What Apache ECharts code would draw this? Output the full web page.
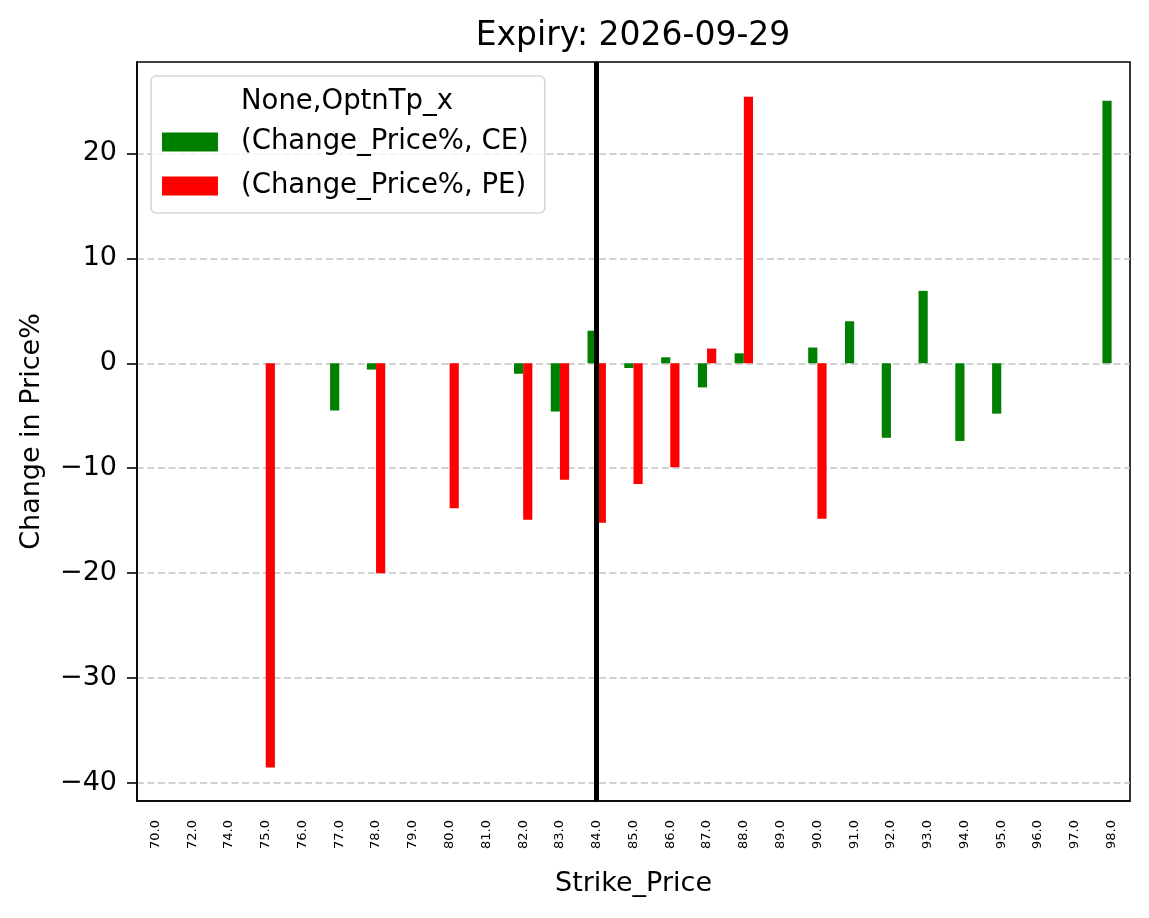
<!DOCTYPE html>
<html><head><meta charset="utf-8">
<script src="https://cdn.jsdelivr.net/npm/echarts@6/dist/echarts.min.js"></script>
<style>html,body{margin:0;padding:0;background:#fff}#c{width:1149px;height:918px}</style>
</head><body><div id="c"></div>
<script>
const categories = ['70.0','72.0','74.0','75.0','76.0','77.0','78.0','79.0','80.0','81.0','82.0','83.0','84.0','85.0','86.0','87.0','88.0','89.0','90.0','91.0','92.0','93.0','94.0','95.0','96.0','97.0','98.0'];
const ceValues = [null,null,null,null,null,-4.5,-0.6,null,null,null,-1.0,-4.6,3.1,-0.45,0.57,-2.3,0.95,null,1.5,4.0,-7.1,6.9,-7.4,-4.8,null,null,25.0];
const peValues = [null,null,null,-38.5,null,null,-20.0,null,-13.8,null,-14.9,-11.1,-15.2,-11.5,-9.9,1.4,25.4,null,-14.8,null,null,null,null,null,null,null,null];
const yTicks = [-40,-30,-20,-10,0,10,20];
const atmStrike = '84.0';
const font = 'DejaVu Sans';
const chart = echarts.init(document.getElementById('c'), null, {renderer:'canvas'});
chart.setOption({
  animation:false,
  backgroundColor:'#fff',
  textStyle:{fontFamily:font},
  title:{text:'Expiry: 2026-09-29', left:628, top:15, textAlign:'center',
    textStyle:{fontFamily:font,fontSize:33,fontWeight:'normal',color:'#000'}},
  grid:{left:137,right:19,top:62,bottom:117,show:true,borderColor:'#000',borderWidth:1.6,backgroundColor:'transparent'},
  legend:{orient:'vertical',left:151,top:76,itemWidth:56,itemHeight:19,itemGap:16,
    padding:[52,16,13,11],borderColor:'#d6d6d6',borderWidth:1.6,borderRadius:5,backgroundColor:'rgba(255,255,255,0.8)',
    textStyle:{fontFamily:font,fontSize:27.5,lineHeight:27,color:'#000',padding:[0,0,0,18]},
    data:[{name:'(Change_Price%, CE)',icon:'rect'},{name:'(Change_Price%, PE)',icon:'rect'}]},
  graphic:[{type:'text',left:241,top:88,z:100,style:{text:'None,OptnTp_x',font:'27.5px "DejaVu Sans"',fill:'#000'}}],
  xAxis:{type:'category',data:categories,name:'Strike_Price',nameLocation:'middle',nameGap:69,
    nameTextStyle:{fontFamily:font,fontSize:27,color:'#000'},
    axisLine:{onZero:false,lineStyle:{color:'#000',width:1.6}},
    axisTick:{alignWithLabel:true,length:10,lineStyle:{color:'#000',width:1.6}},
    axisLabel:{rotate:90,fontSize:13,color:'#000',margin:19,interval:0,fontFamily:font},
    splitLine:{show:false}},
  yAxis:{type:'value',min:-41.7,max:28.7,splitNumber:7,name:'Change in Price%',nameLocation:'middle',nameGap:92,
    nameTextStyle:{fontFamily:font,fontSize:27,color:'#000'},
    axisLine:{show:true,lineStyle:{color:'#000',width:1.6}},
    axisTick:{show:true,length:10,customValues:yTicks,lineStyle:{color:'#000',width:1.6}},
    axisLabel:{customValues:yTicks,fontSize:27,color:'#000',margin:20,fontFamily:font,
      formatter:v=>String(Math.round(v)).replace('-','\u2212')},
    splitLine:{show:true,lineStyle:{color:'#c4c4c4',type:[7,3.5],width:1.5}}},
  series:[
    {name:'(Change_Price%, CE)',type:'bar',data:ceValues,barWidth:'25%',barGap:'0%',itemStyle:{color:'#008000'}},
    {name:'(Change_Price%, PE)',type:'bar',data:peValues,barWidth:'25%',barGap:'0%',itemStyle:{color:'#ff0000'}},
    {name:'atm',type:'line',data:[],z:5,
      markLine:{silent:true,symbol:['none','none'],label:{show:false},lineStyle:{color:'#000',width:5,type:'solid'},data:[{xAxis:atmStrike}]}}
  ]
});
</script></body></html>
